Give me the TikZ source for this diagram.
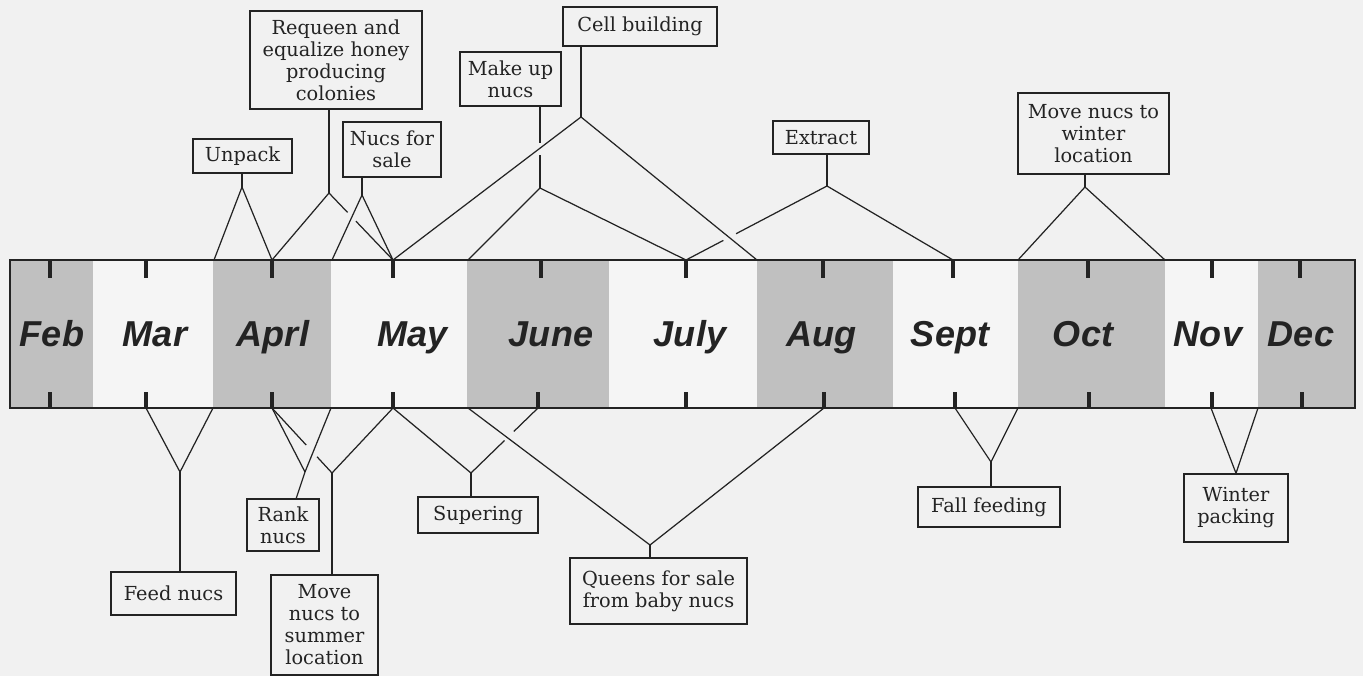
\documentclass[tikz,border=0pt]{standalone}
\usepackage{fontspec}
\setmainfont{DejaVu Serif}
\newfontfamily\monthfont{Liberation Sans}
\usetikzlibrary{calc}
\definecolor{bg}{RGB}{241,241,241}
\definecolor{lite}{RGB}{245,245,245}
\definecolor{shade}{RGB}{192,192,192}
\definecolor{ink}{RGB}{35,35,35}
\begin{document}
\begin{tikzpicture}[x=0.02cm,y=-0.02cm,
  box/.style={draw=ink,line width=0.8pt,fill=bg,inner sep=0pt,align=center,
    text=ink,font=\fontsize{11}{12.5}\selectfont},
  bx/.style 2 args={minimum width=#1*0.02cm,minimum height=#2*0.02cm},
  conn/.style={draw=ink,line width=0.7pt},
  tick/.style={draw=ink,line width=2.3pt},
  month/.style={anchor=base,text=ink,font=\monthfont\fontsize{20.5}{22}\selectfont\bfseries\itshape},
  col/.style={fill=shade,draw=none}]
\useasboundingbox (0,0) rectangle (1363,676);
\fill[bg] (0,0) rectangle (1363,676);
% band
\fill[lite] (10,260) rectangle (1355,408);
\foreach \a/\b in {10/93,213/331,467/609,757/893,1018/1165,1258/1355}
  \fill[col] (\a,260) rectangle (\b,408);
\draw[ink,line width=1pt] (10,260) rectangle (1355,408);
% ticks
\foreach \t in {50,146,272,393,541,686,823,953,1088,1212,1300}
  \draw[tick] (\t,260) -- (\t,278);
\foreach \t in {50,146,272,393,538,686,824,955,1089,1212,1302}
  \draw[tick] (\t,392) -- (\t,408);
% months
\node[month] (m1) at (52,346) {Feb};
\node[month] (m2) at (155,346) {Mar};
\node[month] (m3) at (273,346) {Aprl};
\node[month] (m4) at (413,346) {May};
\node[month] (m5) at (551,346) {June};
\node[month] (m6) at (690,346) {July};
\node[month] (m7) at (821,346) {Aug};
\node[month] (m8) at (950,346) {Sept};
\node[month] (m9) at (1083,346) {Oct};
\node[month] (m10) at (1208,346) {Nov};
\node[month] (m11) at (1301,346) {Dec};
% band points
\coordinate (pT214) at (214,260);
\coordinate (tAprT) at (272,260);
\coordinate (pT332) at (332,260);
\coordinate (tMayT) at (393,260);
\coordinate (pT468) at (468,260);
\coordinate (tJulT) at (686,260);
\coordinate (pT757) at (757,260);
\coordinate (tSepT) at (953,260);
\coordinate (pT1018) at (1018,260);
\coordinate (pT1165) at (1165,260);
\coordinate (tMarB) at (146,408);
\coordinate (pB213) at (213,408);
\coordinate (tAprB) at (272,408);
\coordinate (pB331) at (331,408);
\coordinate (tMayB) at (393,408);
\coordinate (pB468) at (468,408);
\coordinate (tJunB) at (538,408);
\coordinate (tAugB) at (824,408);
\coordinate (tSepB) at (955,408);
\coordinate (pB1018) at (1018,408);
\coordinate (tNovB) at (1211,408);
\coordinate (pB1258) at (1258,408);
% apexes
\coordinate (aUnp) at (242,187);
\coordinate (aReq) at (329,193);
\coordinate (aNuc) at (362,195);
\coordinate (aCel) at (581,117);
\coordinate (aMak) at (540,188);
\coordinate (aExt) at (827,186);
\coordinate (aWlo) at (1085,187);
\coordinate (aFee) at (180,472);
\coordinate (aRan) at (305,472);
\coordinate (aSum) at (332,473);
\coordinate (aSup) at (471,473);
\coordinate (aQue) at (650,545);
\coordinate (aFal) at (991,462);
% top boxes
\node[box,bx={172}{98}] (req) at (336,60) {Requeen and\\equalize honey\\producing\\colonies};
\node[box,bx={99}{34}] (unp) at (242.5,156) {Unpack};
\node[box,bx={98}{55}] (nuc) at (392,149.5) {Nucs for\\sale};
\node[box,bx={154}{39}] (cel) at (640,26.5) {Cell building};
\node[box,bx={101}{54}] (mak) at (510.5,79) {Make up\\nucs};
\node[box,bx={96}{33}] (ext) at (821,137.5) {Extract};
\node[box,bx={151}{81}] (wlo) at (1093.5,133.5) {Move nucs to\\winter\\location};
% bottom boxes
\node[box,bx={125}{43}] (fee) at (173.5,593.5) {Feed nucs};
\node[box,bx={72}{52}] (ran) at (283,525) {Rank\\nucs};
\node[box,bx={107}{100}] (sum) at (324.5,625) {Move\\nucs to\\summer\\location};
\node[box,bx={120}{36}] (sup) at (478,515) {Supering};
\node[box,bx={177}{66}] (que) at (658.5,591) {Queens for sale\\from baby nucs};
\node[box,bx={142}{40}] (fal) at (989,507) {Fall feeding};
\node[box,bx={104}{68}] (wpk) at (1236,508) {Winter\\packing};
% top connectors
\draw[conn] (aUnp |- unp.south) -- (aUnp);
\draw[conn] (pT214) -- (aUnp) -- (tAprT);
\draw[conn] (aReq |- req.south) -- (aReq);
\draw[conn] (tAprT) -- (aReq) -- ($(aReq)!0.29!(tMayT)$);
\draw[conn] ($(aReq)!0.42!(tMayT)$) -- (tMayT);
\draw[conn] (aNuc |- nuc.south) -- (aNuc);
\draw[conn] (pT332) -- (aNuc) -- (tMayT);
\draw[conn] (aCel |- cel.south) -- (aCel);
\draw[conn] (tMayT) -- (aCel) -- (pT757);
\draw[conn] (aMak |- mak.south) -- (540,143);
\draw[conn] (540,155) -- (aMak);
\draw[conn] (pT468) -- (aMak) -- (tJulT);
\draw[conn] (aExt |- ext.south) -- (aExt);
\draw[conn] (tSepT) -- (aExt) -- ($(aExt)!0.645!(tJulT)$);
\draw[conn] ($(aExt)!0.735!(tJulT)$) -- (tJulT);
\draw[conn] (aWlo |- wlo.south) -- (aWlo);
\draw[conn] (pT1018) -- (aWlo) -- (pT1165);
% bottom connectors
\draw[conn] (aFee |- fee.north) -- (aFee);
\draw[conn] (tMarB) -- (aFee) -- (pB213);
\draw[conn] (tAprB) -- (aRan);
\draw[conn] (pB331) -- (aRan) -- (296,499);
\draw[conn] (aSum |- sum.north) -- (aSum);
\draw[conn] (tMayB) -- (aSum) -- ($(aSum)!0.25!(tAprB)$);
\draw[conn] ($(aSum)!0.43!(tAprB)$) -- (tAprB);
\draw[conn] (aSup |- sup.north) -- (aSup);
\draw[conn] (tMayB) -- (aSup) -- ($(aSup)!0.5!(tJunB)$);
\draw[conn] ($(aSup)!0.64!(tJunB)$) -- (tJunB);
\draw[conn] (aQue |- que.north) -- (aQue);
\draw[conn] (pB468) -- (aQue) -- (tAugB);
\draw[conn] (aFal |- fal.north) -- (aFal);
\draw[conn] (tSepB) -- (aFal) -- (pB1018);
\draw[conn] (tNovB) -- (wpk.north) -- (pB1258);
\end{tikzpicture}
\end{document}
